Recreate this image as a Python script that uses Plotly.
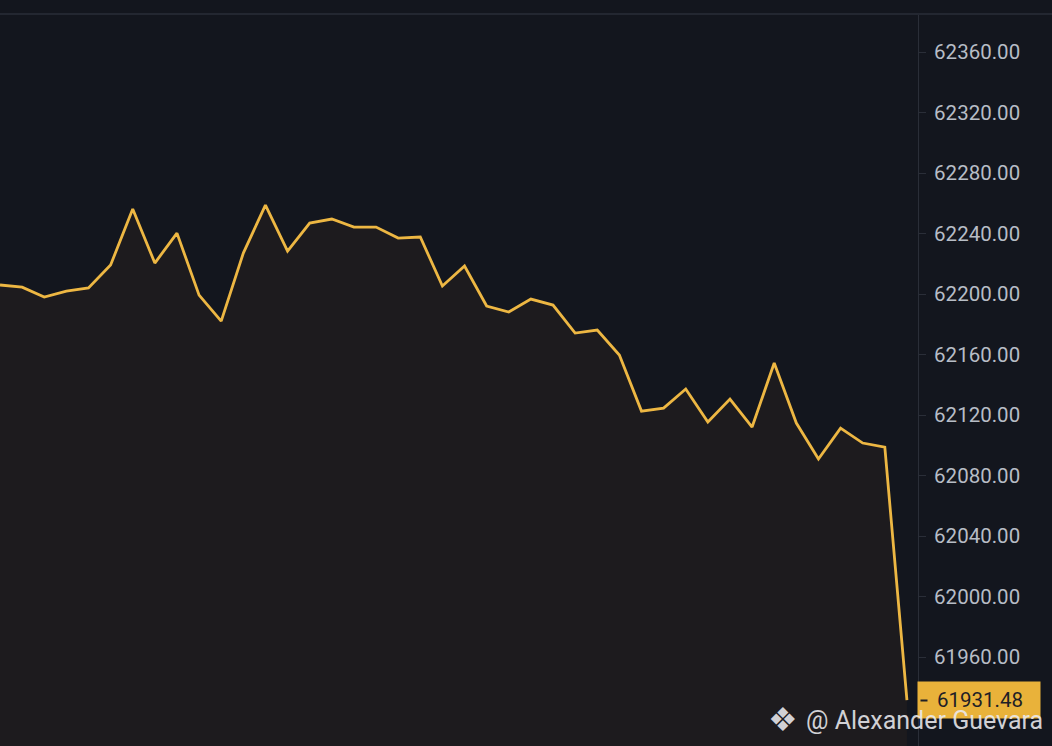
import plotly.graph_objects as go

# Data (one point per candle interval)
index = list(range(42))
prices = [
    62206.0, 62204.6, 62198.0, 62202.0, 62204.0, 62219.2, 62256.2, 62220.5,
    62240.3, 62199.3, 62182.1, 62227.1, 62258.8, 62228.4, 62246.9, 62249.6,
    62244.3, 62244.3, 62237.0, 62237.7, 62205.3, 62218.5, 62192.1, 62188.1,
    62196.7, 62192.7, 62174.2, 62176.2, 62159.7, 62122.6, 62124.6, 62137.2,
    62115.4, 62130.6, 62112.1, 62154.4, 62114.7, 62090.9, 62111.4, 62101.5,
    62098.8, 61931.48,
]
tick_values = [61960, 62000, 62040, 62080, 62120, 62160, 62200, 62240, 62280, 62320, 62360]
tick_labels = [f"{v:.2f}" for v in tick_values]
last_price = prices[-1]
watermark_logo = "❖"
watermark_text = "@ Alexander Guevara"

BG = "#13161e"
FILL = "#1d1b1e"
LINE = "#edb743"
GRIDLINE = "#2a2e38"
TICKFONT = "#b7bdc6"
LABEL_BG = "#e9b23a"
LABEL_FG = "#1e2026"

W, H = 1052, 746
L, R, T, B = 0, 134, 15, 0
plot_w = W - L - R
plot_h = H - T - B

fig = go.Figure()
fig.add_trace(go.Scatter(
    x=index, y=prices, mode="lines",
    line=dict(color=LINE, width=2.8),
    fill="tozeroy", fillcolor=FILL,
    hoverinfo="skip", showlegend=False,
))

fig.update_layout(
    width=W, height=H,
    margin=dict(l=L, r=R, t=T, b=B, autoexpand=False),
    paper_bgcolor=BG, plot_bgcolor=BG,
    xaxis=dict(visible=False, range=[0, 41.5], fixedrange=True),
    yaxis=dict(
        side="right", range=[61901.2, 62384.5],
        tickvals=tick_values, ticktext=tick_labels,
        ticks="outside", ticklen=7, tickcolor=GRIDLINE, tickwidth=1,
        showline=True, linecolor=GRIDLINE, linewidth=1,
        showgrid=False, zeroline=False,
        tickfont=dict(family="Roboto", size=20.5, color=TICKFONT),
        ticklabelstandoff=4,
    ),
    shapes=[
        dict(type="line", xref="paper", yref="paper", x0=0, x1=W / plot_w,
             y0=1 + 1 / plot_h, y1=1 + 1 / plot_h,
             line=dict(color=GRIDLINE, width=1.5)),
    ],
)

# current price label on the axis
fig.add_annotation(
    xref="paper", yref="y", x=1 - 1 / plot_w, y=last_price, xanchor="left", yanchor="middle",
    text=" ", showarrow=False, bgcolor=LABEL_BG, width=122, height=36,
    font=dict(size=2), borderpad=0,
)
fig.add_annotation(
    xref="paper", yref="y", x=1 + 18 / plot_w, y=last_price, xanchor="left", yanchor="middle",
    text=f"{last_price:.2f}", showarrow=False,
    font=dict(family="Roboto", size=20.5, color=LABEL_FG),
    borderpad=0,
)
fig.add_annotation(
    xref="paper", yref="y", x=1 + 2 / plot_w, y=last_price, xanchor="left", yanchor="middle",
    text=" ", showarrow=False, bgcolor=LABEL_FG, width=6, height=1,
    font=dict(size=1), borderpad=0,
)

# watermark
fig.add_annotation(
    xref="paper", yref="paper", x=766 / plot_w, y=(H - 719) / plot_h,
    xanchor="left", yanchor="middle", showarrow=False,
    text=watermark_logo,
    font=dict(family="DejaVu Sans", size=33, color="rgba(235,235,240,0.88)"),
)
fig.add_annotation(
    xref="paper", yref="paper", x=804 / plot_w, y=(H - 720) / plot_h,
    xanchor="left", yanchor="middle", showarrow=False,
    text=watermark_text,
    font=dict(family="Roboto", size=25, color="rgba(235,235,240,0.88)"),
)

fig.write_html(
    "out.html",
    config={"displayModeBar": False},
    post_script="document.body.style.margin='0';document.body.style.background='#13161e';",
)
